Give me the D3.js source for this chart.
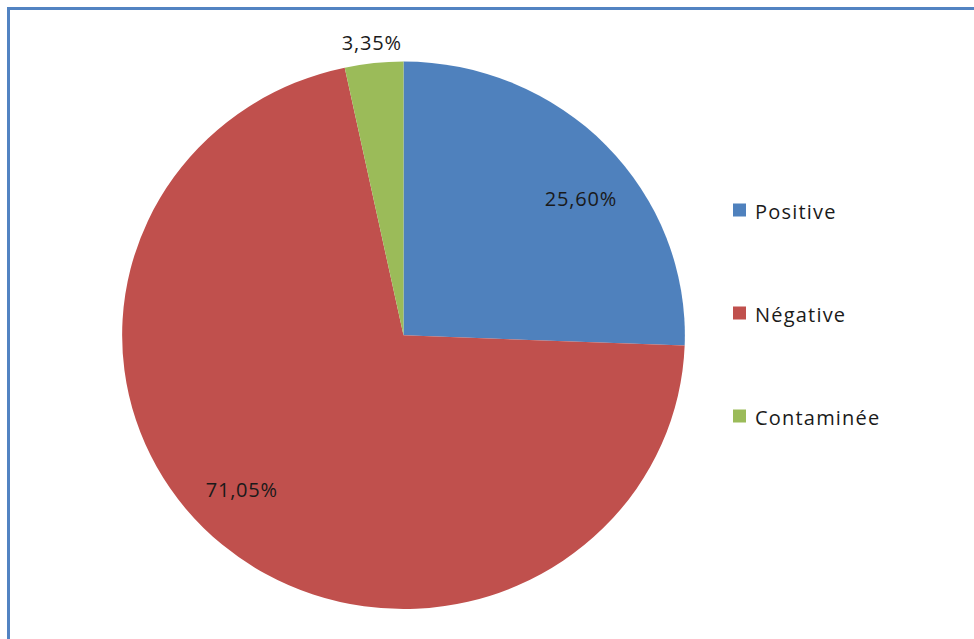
<!DOCTYPE html>
<html>
<head>
<meta charset="utf-8">
<script src="https://cdn.jsdelivr.net/npm/d3@7"></script>
<style>
  html, body { margin: 0; padding: 0; background: #fff; overflow: hidden; }
  svg { display: block; }
  text { font-family: "Open Sans", "Noto Sans", sans-serif; fill: #1a1a1a; }
</style>
</head>
<body>
<svg id="chart" width="974" height="639"></svg>
<script>
// Résultats des cultures
const categories = ["Positive", "Négative", "Contaminée"];
const percentages = [25.60, 71.05, 3.35];
const sliceColors = ["#4f81bd", "#c0504d", "#9bbb59"];

const svg = d3.select("#chart");
const W = 974, H = 639;

// chart frame (continues past the right and bottom edges)
svg.append("rect")
  .attr("x", 8.5).attr("y", 8.5)
  .attr("width", W + 20).attr("height", H + 20)
  .attr("fill", "#fff")
  .attr("stroke", "#5283c2")
  .attr("stroke-width", 3);

const cx = 403.5, cy = 335.3, r = 273.7, xStretch = 1.028;

const pie = d3.pie().sort(null).value(d => d)(percentages);
const arc = d3.arc().innerRadius(0).outerRadius(r);

const g = svg.append("g")
  .attr("transform", `translate(${cx},${cy}) scale(${xStretch},1)`);

g.selectAll("path.slice")
  .data(pie)
  .join("path")
  .attr("class", "slice")
  .attr("d", arc)
  .attr("fill", (d, i) => sliceColors[i]);

const fmt = v => v.toFixed(2).replace(".", ",") + "%";

// value labels: inside the slice (slightly turned clockwise), outside for thin slices
const insideR = r * 0.805, outsideR = r * 1.075, insideTurn = 5.5 * Math.PI / 180;
function labelPos(d) {
  const outside = d.value < 5;
  const a = (d.startAngle + d.endAngle) / 2 + (outside ? 0 : insideTurn);
  const R = outside ? outsideR : insideR;
  return [cx + Math.sin(a) * R * xStretch, cy - Math.cos(a) * R];
}

svg.append("g").selectAll("text")
  .data(pie)
  .join("text")
  .attr("x", d => labelPos(d)[0])
  .attr("y", d => labelPos(d)[1])
  .attr("text-anchor", "middle")
  .attr("dominant-baseline", "central")
  .attr("font-size", 20)
  .attr("letter-spacing", 0.8)
  .text(d => fmt(d.value));

// legend
const legendY = d3.scalePoint().domain(categories).range([210, 416]);
const legend = svg.append("g").selectAll("g")
  .data(categories)
  .join("g")
  .attr("transform", d => `translate(733,${legendY(d)})`);

legend.append("rect")
  .attr("x", 0).attr("y", -6.5)
  .attr("width", 13).attr("height", 13)
  .attr("fill", (d, i) => sliceColors[i]);

legend.append("text")
  .attr("x", 22).attr("y", 1)
  .attr("dominant-baseline", "central")
  .attr("font-size", 20)
  .attr("letter-spacing", 1.2)
  .text(d => d);
</script>
</body>
</html>
